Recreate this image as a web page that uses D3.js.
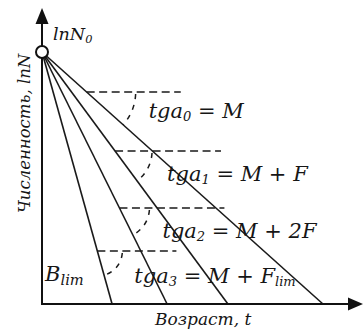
<!DOCTYPE html>
<html>
<head>
<meta charset="utf-8">
<script src="https://cdn.jsdelivr.net/npm/d3@7"></script>
<style>
  body { margin: 0; background: #fff; }
  text { font-family: "DejaVu Serif", serif; font-style: italic; fill: #161616; }
</style>
</head>
<body>
<svg id="chart" width="363" height="331"></svg>
<script>
// Starting log-abundance of the cohort
const lnN0 = 10;
// Age at which each catch curve reaches lnN = 0 (steepest first)
const endAges = [2.19, 3.91, 5.81, 8.78];
// Angle markers: lnN level of the horizontal, its length in age units, and the curve it belongs to
const markerLevels = [8.41, 6.07, 3.81, 2.10];
const markerSpans = [2.94, 3.31, 3.28, 2.47];
const markerCurve = [3, 2, 1, 0];
// Formula next to each marker: [text, subscript] pieces
const markerLabels = [
  [["tga", ""], ["0", "sub"], [" = M", ""]],
  [["tga", ""], ["1", "sub"], [" = M + F", ""]],
  [["tga", ""], ["2", "sub"], [" = M + 2F", ""]],
  [["tga", ""], ["3", "sub"], [" = M + F", ""], ["lim", "sub"]]
];
const yTitle = "Численность, lnN";
const xTitle = "Возраст, t";
const topLabel = [["lnN", ""], ["0", "sub"]];
const limLabel = [["B", ""], ["lim", "sub"]];

const svg = d3.select("#chart");
const x = d3.scaleLinear().domain([0, 10]).range([42, 362]);
const y = d3.scaleLinear().domain([0, lnN0]).range([304, 52]);

// Catch curves from the origin point down to the age axis
svg.append("g").selectAll("line").data(endAges).join("line")
  .attr("x1", x(0)).attr("y1", y(lnN0))
  .attr("x2", d => x(d)).attr("y2", y(0))
  .attr("stroke", "#1a1a1a").attr("stroke-width", 1.6);

// Axes with arrow heads
const ax = svg.append("g").attr("stroke", "#111").attr("stroke-width", 2);
ax.append("line").attr("x1", x(0)).attr("y1", y(0)).attr("x2", x(0)).attr("y2", 22);
ax.append("line").attr("x1", x(0) - 1).attr("y1", y(0)).attr("x2", 350).attr("y2", y(0));
svg.append("path").attr("d", `M${x(0)},8 L${x(0) - 6.5},24 L${x(0) + 6.5},24 Z`).attr("fill", "#111");
svg.append("path").attr("d", `M363,${y(0)} L348,${y(0) - 6.5} L348,${y(0) + 6.5} Z`).attr("fill", "#111");

// Origin marker
svg.append("circle").attr("cx", x(0)).attr("cy", y(lnN0)).attr("r", 6)
  .attr("fill", "#fff").attr("stroke", "#111").attr("stroke-width", 2);

function addPieces(t, pieces, subScale) {
  pieces.forEach(([s, kind]) => {
    const ts = t.append("tspan").text(s);
    if (kind === "sub") ts.attr("font-size", subScale + "em").attr("dy", "0.25em");
    else ts.attr("dy", t.selectAll("tspan").size() > 1 ? (-0.25 * subScale) + "em" : 0);
  });
}

// Angle markers: dashed horizontal, dashed arc and the formula
const arcRadii = [49, 37, 30, 25];
const labelShift = [[13, 26], [15, 30], [13, 30], [12, 32]];
markerLevels.forEach((lv, i) => {
  const te = endAges[markerCurve[i]];
  const t0 = te * (1 - lv / lnN0);
  const cx = x(t0), cy = y(lv);
  svg.append("line")
    .attr("x1", cx).attr("y1", cy).attr("x2", x(t0 + markerSpans[i])).attr("y2", cy)
    .attr("stroke", "#1a1a1a").attr("stroke-width", 1.5).attr("stroke-dasharray", "8,4.5");
  const theta = Math.atan2(y(0) - y(lnN0), x(te) - x(0));
  const r = arcRadii[i];
  const p = d3.path();
  p.moveTo(cx + r, cy);
  p.arc(cx, cy, r, 0, theta);
  svg.append("path").attr("d", p.toString()).attr("fill", "none")
    .attr("stroke", "#1a1a1a").attr("stroke-width", 1.5).attr("stroke-dasharray", "5,6").attr("stroke-dashoffset", -2);
  const t = svg.append("text")
    .attr("x", cx + r + labelShift[i][0]).attr("y", cy + labelShift[i][1])
    .attr("font-size", 21);
  addPieces(t, markerLabels[i], 0.62);
});

// Axis titles and point labels
svg.append("text").attr("transform", `translate(30,213) rotate(-90)`)
  .attr("font-size", 16.5).text(yTitle);
svg.append("text").attr("x", 155).attr("y", 325).attr("font-size", 17).text(xTitle);
addPieces(svg.append("text").attr("x", 53).attr("y", 40).attr("font-size", 17.5), topLabel, 0.65);
addPieces(svg.append("text").attr("x", 45).attr("y", 281).attr("font-size", 21), limLabel, 0.7);
</script>
</body>
</html>
